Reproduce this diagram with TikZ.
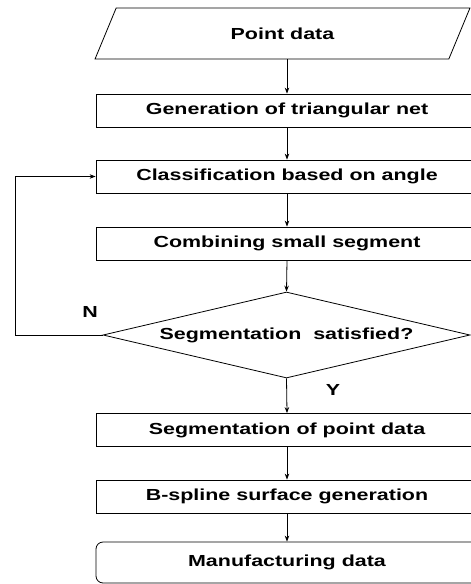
\documentclass[tikz,border=0pt]{standalone}
\usepackage{fontspec}
\setmainfont[FakeStretch=1.34]{Liberation Sans}
\usetikzlibrary{shapes.geometric,arrows.meta}
\begin{document}
\begin{tikzpicture}[x=1pt,y=-1pt,
  txt/.style={font=\fontsize{16}{18}\selectfont\bfseries},
  box/.style={draw,line width=0.8pt,minimum width=382pt,minimum height=33pt,inner sep=0pt,txt},
  para/.style={draw,line width=0.8pt,trapezium,trapezium left angle=60.75,trapezium right angle=119.25,trapezium stretches=true,minimum width=375pt,minimum height=51pt,inner sep=0pt,txt},
  dia/.style={draw,line width=0.8pt,diamond,aspect=4.27,minimum width=367pt,minimum height=86pt,inner sep=0pt,txt},
  arr/.style={draw,line width=0.8pt,-{Stealth[length=6pt,width=4.5pt]}},
  lab/.style={txt}
]
\useasboundingbox (0,0) rectangle (471,584);
\clip (0,0) rectangle (471,584);
\node[para] (pd) at (282.5,33.5) {Point data};
\node[box] (gen) at (287,110.5) {Generation of triangular net};
\node[box] (cls) at (287,176.5) {Classification based on angle};
\node[box] (cmb) at (287,243.5) {Combining small segment};
\node[dia] (dec) at (286.5,335) {Segmentation\ \ satisfied?};
\node[box] (seg) at (287,430) {Segmentation of point data};
\node[box] (bsp) at (287,496.5) {B-spline surface generation};
\node[box,rounded corners=7pt,minimum height=41pt] (man) at (287,562.5) {Manufacturing data};
\node[lab] (nlab) at (90,312) {N};
\node[lab] (ylab) at (333,390) {Y};
\coordinate (lx) at (15,335);
\draw[arr] (gen.north |- pd.south) -- (gen.north);
\draw[arr] (gen) -- (cls);
\draw[arr] (cls) -- (cmb);
\draw[arr] (cmb.south) -- (dec.north);
\draw[arr] (dec.south) -- (seg.north);
\draw[arr] (seg) -- (bsp);
\draw[arr] (bsp) -- (man);
\draw[arr] (dec.west) -- (lx) |- (cls.west);
\end{tikzpicture}
\end{document}
